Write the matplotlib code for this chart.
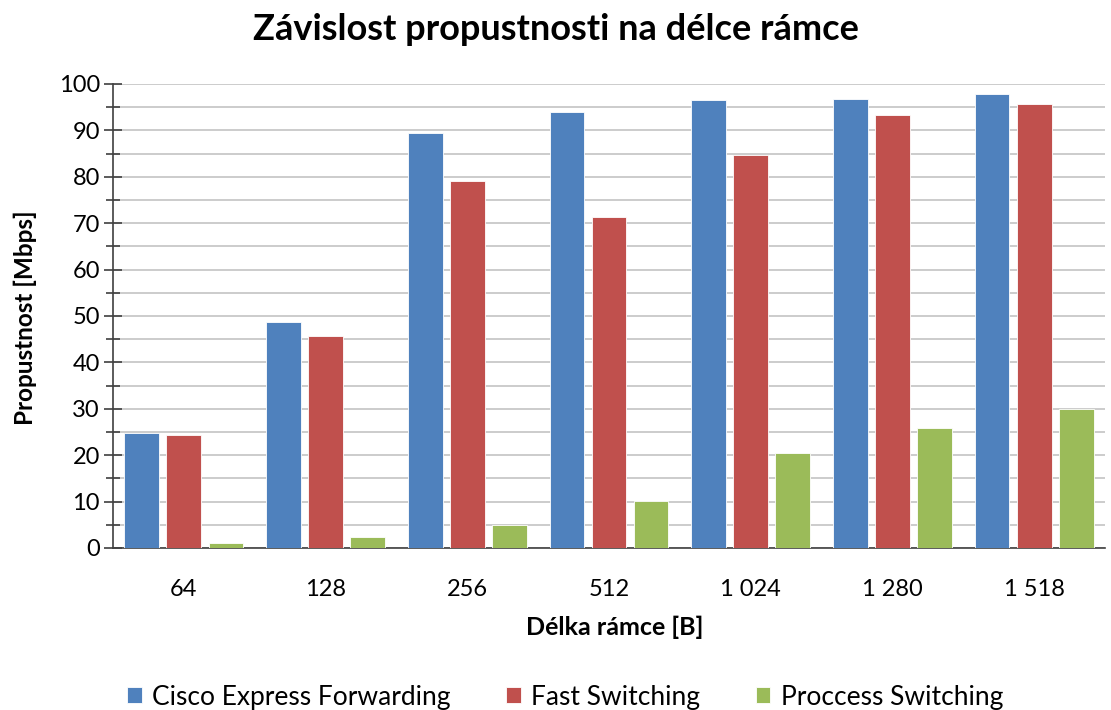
import matplotlib
matplotlib.use("Agg")
import matplotlib.pyplot as plt
import numpy as np
from matplotlib.ticker import MultipleLocator

categories = ["64", "128", "256", "512", "1 024", "1 280", "1 518"]
series_names = ["Cisco Express Forwarding", "Fast Switching", "Proccess Switching"]
cef = [24.7, 48.7, 89.4, 93.9, 96.6, 96.8, 97.8]
fast = [24.4, 45.7, 79.1, 71.4, 84.7, 93.4, 95.7]
process = [1.1, 2.4, 4.9, 10.2, 20.4, 25.9, 30.0]
colors = ["#4F81BD", "#C0504D", "#9BBB59"]

plt.rcParams['font.family'] = ['Lato', 'DejaVu Sans']

fig = plt.figure(figsize=(11.11, 7.10), dpi=100)
ax = fig.add_axes([113/1111, 1 - 548/710, (1105-113)/1111, (548-84)/710])

x = np.arange(len(categories))
step = 0.297
width = 0.245
for i, (vals, name, c) in enumerate(zip([cef, fast, process], series_names, colors)):
    ax.bar(x + (i - 1) * step, vals, width, color=c, label=name,
           edgecolor='white', linewidth=0.6, zorder=3)

ax.set_xlim(-0.5, len(categories) - 0.5)
ax.set_ylim(0, 100)
ax.yaxis.set_major_locator(MultipleLocator(10))
ax.yaxis.set_minor_locator(MultipleLocator(5))
ax.grid(axis='y', which='both', color='#c4c4c4', linewidth=1.2, zorder=0)
ax.set_xticks(x)
ax.set_xticklabels(categories, fontsize=17)
ax.tick_params(axis='x', length=0, pad=22)
ax.tick_params(axis='y', which='major', direction='inout', length=13, width=1.2, color='#404040', labelsize=17, pad=3)
ax.tick_params(axis='y', which='minor', direction='inout', length=10, width=1.2, color='#404040')

for s in ['top', 'right']:
    ax.spines[s].set_visible(False)
ax.spines['left'].set_color('#404040')
ax.spines['bottom'].set_color('#404040')
ax.spines['left'].set_linewidth(1.2)
ax.spines['bottom'].set_linewidth(1.2)

fig.text(0.5, 1 - 30/710, "Závislost propustnosti na délce rámce", ha='center', va='center',
         fontsize=26, fontweight='bold')
fig.text(615/1111, 1 - 627/710, "Délka rámce [B]", ha='center', va='center', fontsize=18, fontweight='bold')
fig.text(25/1111, 1 - 318/710, "Propustnost [Mbps]", ha='center', va='center', rotation=90,
         fontsize=17.5, fontweight='bold')

leg = fig.legend(loc='center', bbox_to_anchor=(565/1111, 1 - 697/710), ncol=3, frameon=False,
                 fontsize=19, handlelength=0.55, handleheight=0.55, handletextpad=0.4,
                 columnspacing=2.1)

fig.savefig("out.png", dpi=100)
